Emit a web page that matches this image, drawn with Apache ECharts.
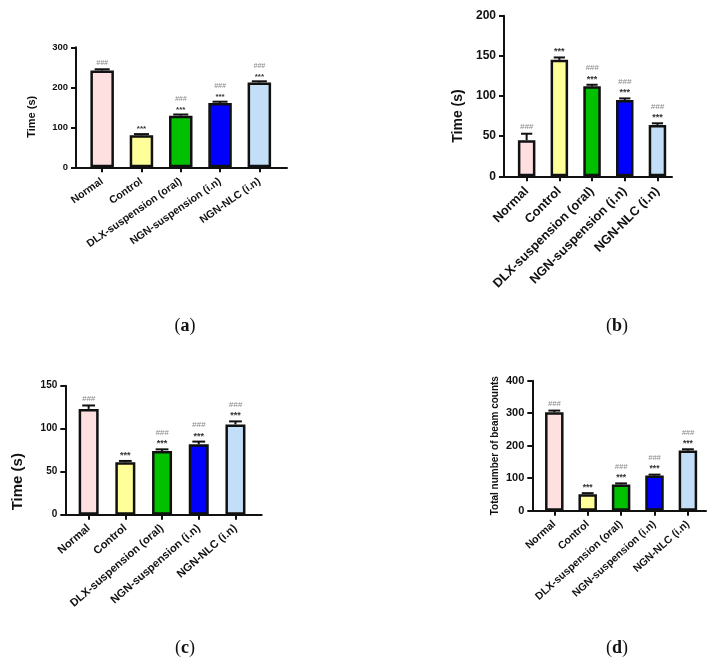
<!DOCTYPE html>
<html><head><meta charset="utf-8">
<script src="https://cdn.jsdelivr.net/npm/echarts@6/dist/echarts.min.js"></script>
<style>html,body{margin:0;padding:0;background:#fff}#c{width:721px;height:667px}</style>
</head><body><div id="c"></div>
<script>
// ---- data ----
const categories = ['Normal', 'Control', 'DLX-suspension (oral)', 'NGN-suspension (i.n)', 'NGN-NLC (i.n)'];

const meansA = [242, 80, 129, 161, 212];
const errA   = [3, 3, 3, 3, 3];
const starsA = ['', '***', '***', '***', '***'];
const hashA  = ['###', '', '###', '###', '###'];

const meansB = [45, 145, 112, 95, 64];
const errB   = [8, 3, 2, 2, 2];
const starsB = ['', '***', '***', '***', '***'];
const hashB  = ['###', '', '###', '###', '###'];

const meansC = [123, 61, 74, 82, 105];
const errC   = [4, 1.5, 2, 3, 3.5];
const starsC = ['', '***', '***', '***', '***'];
const hashC  = ['###', '', '###', '###', '###'];

const meansD = [303, 51, 81, 108, 185];
const errD   = [5, 3, 3, 3, 4];
const starsD = ['', '***', '***', '***', '***'];
const hashD  = ['###', '', '###', '###', '###'];

const yMaxA = 300, yStepA = 100;
const yMaxB = 200, yStepB = 50;
const yMaxC = 150, yStepC = 50;
const yMaxD = 400, yStepD = 100;

const yNameA = 'Time (s)';
const yNameB = 'Time (s)';
const yNameC = 'Time (s)';
const yNameD = 'Total number of beam counts';

const captions = ['a', 'b', 'c', 'd'];

// ---- styles / layout ----
const barColors = ['#FFE0E0', '#FFFF99', '#00C000', '#0000FF', '#C2DFF7'];
const FONT = 'Liberation Sans, Arial, sans-serif';

const layouts = [
  {fl: 76, fr: 287, top: 47.3, bot: 167.3, ml: 82.5, band: 39.3, yFont: 9.5, nameFont: 11, nameGap: 39, namePad: 19, xFont: 10.6, rot: 35, barW: 23.5, ann: 7, lm: 8, xm: 13, cap: [185, 326]},
  {fl: 504, fr: 672, top: 15.7, bot: 176.3, ml: 510.3, band: 32.7, yFont: 12, nameFont: 14, nameGap: 39, namePad: 40, xFont: 12.8, rot: 45, barW: 17.5, ann: 8, lm: 8, xm: 13, cap: [617, 326]},
  {fl: 65.3, fr: 261.7, top: 385.7, bot: 514.7, ml: 70.3, band: 36.7, yFont: 10, nameFont: 15, nameGap: 40, namePad: 63, xFont: 11.2, rot: 41, barW: 20, ann: 8, lm: 8, xm: 12, cap: [185, 648]},
  {fl: 532.3, fr: 706, top: 380.7, bot: 510.7, ml: 537.6, band: 33.4, yFont: 11, nameFont: 10, nameGap: 32, namePad: 0, xFont: 10.6, rot: 42, barW: 18.5, ann: 7.5, lm: 8, xm: 12, cap: [617, 648]}
];

const panels = [
  {means: meansA, errs: errA, stars: starsA, hashes: hashA, max: yMaxA, step: yStepA, name: yNameA},
  {means: meansB, errs: errB, stars: starsB, hashes: hashB, max: yMaxB, step: yStepB, name: yNameB},
  {means: meansC, errs: errC, stars: starsC, hashes: hashC, max: yMaxC, step: yStepC, name: yNameC},
  {means: meansD, errs: errD, stars: starsD, hashes: hashD, max: yMaxD, step: yStepD, name: yNameD}
];

const grid = [], xAxis = [], yAxis = [], series = [], graphic = [];

panels.forEach((p, i) => {
  const L = layouts[i];
  const h = L.bot - L.top;
  const gFrame = grid.length;
  grid.push({left: L.fl, top: L.top, width: L.fr - L.fl, height: h, containLabel: false, outerBoundsMode: 'none'});
  const gMain = grid.length;
  grid.push({left: L.ml, top: L.top, width: L.band * categories.length, height: h, containLabel: false, outerBoundsMode: 'none'});

  // frame axes
  xAxis.push({type: 'value', gridIndex: gFrame, min: 0, max: 1, axisLine: {show: true, onZero: false, lineStyle: {color: '#111', width: 2}},
    axisTick: {show: false}, axisLabel: {show: false}, splitLine: {show: false}});
  yAxis.push({type: 'value', gridIndex: gFrame, min: 0, max: p.max, interval: p.step,
    name: p.name, nameLocation: 'middle', nameRotate: 90, nameGap: L.nameGap,
    nameTextStyle: {fontFamily: FONT, fontWeight: 'bold', fontSize: L.nameFont, color: '#111', padding: [0, L.namePad, 0, 0]},
    axisLine: {show: true, lineStyle: {color: '#111', width: 2}},
    axisTick: {show: true, inside: false, length: 5, lineStyle: {color: '#111', width: 2}},
    axisLabel: {fontFamily: FONT, fontWeight: 'bold', fontSize: L.yFont, color: '#111', margin: L.lm},
    splitLine: {show: false}});

  // main axes
  const xm = xAxis.length;
  xAxis.push({type: 'category', gridIndex: gMain, data: categories,
    axisLine: {show: false},
    axisTick: {show: true, alignWithLabel: true, length: 5, lineStyle: {color: '#111', width: 2}},
    axisLabel: {interval: 0, rotate: L.rot, fontFamily: FONT, fontWeight: 'bold', fontSize: L.xFont, color: '#111', margin: L.xm}});
  const ym = yAxis.length;
  yAxis.push({type: 'value', gridIndex: gMain, min: 0, max: p.max, show: false, splitLine: {show: false}});

  series.push({type: 'bar', xAxisIndex: xm, yAxisIndex: ym, barWidth: L.barW,
    data: p.means.map((v, k) => ({value: v, itemStyle: {color: barColors[k]}})),
    itemStyle: {borderColor: '#111', borderWidth: 2.5}, z: 2});

  series.push({type: 'custom', xAxisIndex: xm, yAxisIndex: ym, z: 5,
    data: p.means.map((v, k) => [k, v, p.errs[k]]),
    renderItem: function (params, api) {
      const k = params.dataIndex;
      const m = api.value(1), e = api.value(2);
      const p0 = api.coord([api.value(0), m]);
      const p1 = api.coord([api.value(0), m + e]);
      const cw = L.barW * 0.32;
      const children = [
        {type: 'line', shape: {x1: p0[0], y1: p0[1], x2: p1[0], y2: p1[1]}, style: {stroke: '#111', lineWidth: 2}},
        {type: 'line', shape: {x1: p1[0] - cw, y1: p1[1], x2: p1[0] + cw, y2: p1[1]}, style: {stroke: '#111', lineWidth: 2}}
      ];
      let yy = p1[1] - 3;
      const st = p.stars[k], hs = p.hashes[k];
      if (st) {
        children.push({type: 'text', style: {text: st, x: p1[0], y: yy + 2, align: 'center', verticalAlign: 'bottom',
          font: 'bold ' + (L.ann + 1) + 'px ' + FONT, fill: '#333'}});
        yy -= L.ann + 2;
      }
      if (hs) {
        children.push({type: 'text', style: {text: hs, x: p1[0], y: yy, align: 'center', verticalAlign: 'bottom',
          font: 'italic ' + L.ann + 'px ' + FONT, fill: '#888'}});
      }
      return {type: 'group', children: children};
    }});

  graphic.push({type: 'text', x: L.cap[0], y: L.cap[1],
    style: {text: '{p|(}{b|' + captions[i] + '}{p|)}', align: 'center', verticalAlign: 'middle',
      rich: {p: {fontFamily: 'Liberation Serif, serif', fontSize: 18, fill: '#111'},
             b: {fontFamily: 'Liberation Serif, serif', fontSize: 18, fontWeight: 'bold', fill: '#111'}}}});
});

const chart = echarts.init(document.getElementById('c'), null, {renderer: 'canvas'});
chart.setOption({animation: false, backgroundColor: '#fff', grid, xAxis, yAxis, series, graphic});
</script>
</body></html>
